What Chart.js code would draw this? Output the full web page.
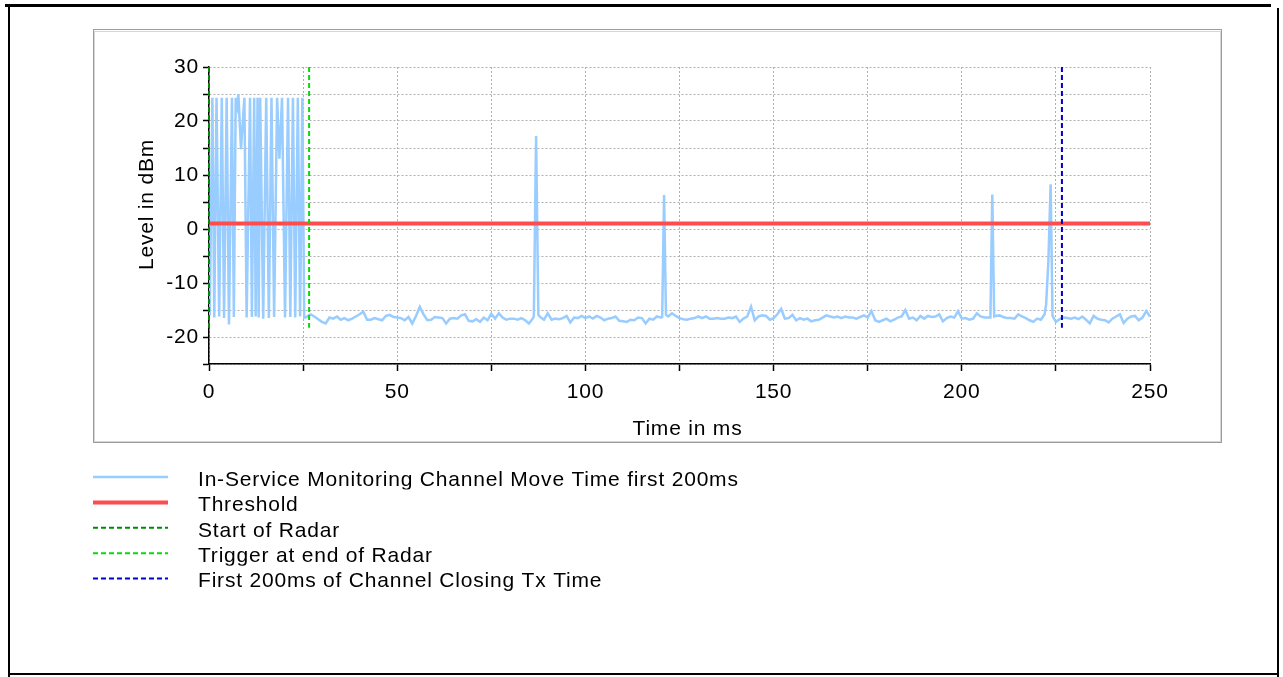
<!DOCTYPE html>
<html>
<head>
<meta charset="utf-8">
<script src="https://cdn.jsdelivr.net/npm/chart.js@4/dist/chart.umd.min.js"></script>
<style>
  html, body { margin: 0; padding: 0; background: #fff; }
  canvas { display: block; }
</style>
</head>
<body>
<canvas id="chart" width="1283" height="677"></canvas>
<script>
// ---- Measured level, radar burst section (first ~26 ms) ----
const burstTimeMs = [0.2, 0.9, 1.4, 2.0, 2.7, 3.4, 4.0, 4.7, 5.3, 6.1,
  6.6, 7.1, 7.5, 7.8, 8.5, 9.4, 10.0, 10.9, 11.4, 12.0,
  12.4, 12.9, 13.2, 13.6, 14.4, 15.2, 15.9, 16.6, 17.3, 18.1,
  18.7, 19.4, 20.2, 21.0, 21.6, 22.3, 22.9, 23.6, 24.2, 24.8,
  25.3, 25.9, 26.5];
const burstLevelDbm = [-16.0, 24.3, -16.4, 24.3, -16.2, 24.3, -16.5, 24.3, -17.7, 24.3,
  -16.3, 24.3, 22.8, 25.0, 14.8, 24.3, -16.4, 24.3, -16.3, 24.3,
  -16.2, 24.3, -16.4, 24.3, -16.6, 24.3, -16.5, 24.3, -16.3, 24.3,
  13.0, 24.3, -16.4, 24.3, -16.3, 24.3, -16.4, 24.3, -16.2, 24.3,
  -16.4, -16.3, -16.0];

// ---- Noise floor, one sample per ms from 27 ms (null = replaced by a spike sample) ----
const floorStartMs = 27;
const floorLevelDbm = [
  -15.8, -16.2, -16.7, -17.2, -17.5, -16.4, -16.6, -16.2, -16.8, -16.5,
  -16.9, -16.6, -16.2, -15.8, -15.3, -16.8, -16.8, -16.5, -16.7, -16.9,
  -16.1, -15.9, -16.3, -16.4, -16.5, -16.9, -16.3, -17.5, -16.1, -14.4,
  -15.8, -16.9, -16.8, -16.3, -16.4, -16.5, -17.5, -16.6, -16.5, -16.6,
  -16.0, -15.8, -17.0, -17.1, -16.7, -17.2, -16.4, -16.9, -15.7, -16.6,
  -15.6, -16.4, -16.8, -16.6, -16.6, -16.8, -16.5, -16.9, -17.5, -16.6,
  null, -16.3, -16.8, -15.6, -16.8, -16.6, -16.7, -16.5, -16.1, -17.3,
  -16.4, -16.5, -16.1, -16.5, -16.2, -16.6, -16.1, -16.4, -16.9, -16.6,
  -16.5, -16.2, -17.0, -17.1, -17.2, -16.8, -16.9, -16.4, -16.5, -17.5,
  -16.6, -16.8, -16.2, -16.4, null, -16.2, -15.6, -16.1, -16.5, -16.7,
  -16.8, -16.6, -16.5, -16.2, -16.5, -16.2, -16.6, -16.6, -16.5, -16.6,
  -16.6, -16.4, -16.5, -16.2, -17.2, -16.6, -16.2, -14.4, -16.9, -16.2,
  -16.0, -16.1, -16.8, -16.5, -15.8, -14.8, -16.6, -16.5, -15.9, -16.9,
  -16.5, -16.8, -16.6, -17.1, -16.9, -16.8, -16.4, -16.0, -16.2, -16.4,
  -16.2, -16.5, -16.2, -16.4, -16.4, -16.6, -16.3, -16.0, -16.4, -15.2,
  -16.9, -17.2, -16.9, -16.6, -17.1, -16.8, -16.4, -16.2, -15.0, -16.6,
  -16.4, -16.9, -16.1, -16.6, -16.1, -16.3, -16.2, -15.8, -17.1, -16.5,
  -16.2, -16.4, -15.2, -16.6, -16.5, -16.8, -16.6, -15.6, -16.2, -16.4,
  -16.4, null, -16.1, -16.0, -16.3, -16.5, -16.5, -16.6, -15.8, -16.2,
  -16.5, -16.9, -17.2, -16.6, -16.8, -15.8, null, null, -17.2, -16.7,
  -16.4, -16.5, -16.6, -16.4, -16.7, -16.2, -16.8, -17.5, -16.1, -16.6,
  -16.8, -16.9, -17.3, -16.6, -16.2, -15.8, -17.4, -16.6, -16.2, -16.1,
  -16.9, -16.4, -15.2, -16.2
];

// ---- Short transmission spikes on top of the floor ----
const spikeTimeMs = [86.3, 86.9, 87.5, 120.4, 120.9, 121.4, 207.6, 208.1, 208.6, 222.4, 223.0, 223.6, 224.1];
const spikeLevelDbm = [-16.2, 17.2, -15.9, -16.3, 6.3, -15.9, -16.4, 6.4, -16.2, -14.0, -6.0, 8.3, -16.1];

// ---- Reference lines ----
const thresholdDbm = 1;
const startOfRadarMs = 0;
const triggerMs = 26.6;
const closingStartMs = 226.6;
const markerTopDbm = 30;
const markerBottomDbm = -18.3;

// ---- Axes ----
const timeRangeMs = [0, 250];
const levelRangeDbm = [-25, 30];
const timeStepMs = 25;
const timeLabelStepMs = 50;
const levelStepDbm = 5;
const levelLabelStepDbm = 10;

const seriesLabels = [
  'In-Service Monitoring Channel Move Time first 200ms',
  'Threshold',
  'Start of Radar',
  'Trigger at end of Radar',
  'First 200ms of Channel Closing Tx Time'
];
const xTitle = 'Time in ms';
const yTitle = 'Level in dBm';

// Assemble the level trace in time order
const levelPoints = [];
burstTimeMs.forEach((t, i) => levelPoints.push({ x: t, y: burstLevelDbm[i] }));
floorLevelDbm.forEach((v, i) => { if (v !== null) levelPoints.push({ x: floorStartMs + i, y: v }); });
spikeTimeMs.forEach((t, i) => levelPoints.push({ x: t, y: spikeLevelDbm[i] }));
levelPoints.sort((a, b) => a.x - b.x);

const verticalMarker = (t) => [{ x: t, y: markerTopDbm }, { x: t, y: markerBottomDbm }];

const FONT = "'Liberation Sans', Arial, Helvetica, sans-serif";
const TEXT_SIZE = 21;
const SPACING = '0.8px';

// Page frame, chart panel and spaced text
const framePlugin = {
  id: 'frame',
  beforeDraw(chart) {
    const ctx = chart.ctx;
    ctx.save();
    ctx.fillStyle = '#000';
    ctx.fillRect(5, 4, 1266, 3);      // top rule
    ctx.fillRect(8, 4, 2, 673);       // left rule
    ctx.fillRect(1277, 8, 2, 669);    // right rule
    ctx.fillRect(8, 673, 1271, 2);    // bottom rule
    // chart panel with a soft inner edge
    ctx.strokeStyle = '#d6d6d6';
    ctx.lineWidth = 1;
    ctx.strokeRect(94.5, 31.5, 1126, 410);
    ctx.strokeStyle = '#9c9c9c';
    ctx.strokeRect(93.5, 29.5, 1128, 413);
    ctx.restore();
    ctx.letterSpacing = SPACING;
  }
};

const annotatePlugin = {
  id: 'annotate',
  afterDraw(chart) {
    const ctx = chart.ctx;
    const area = chart.chartArea;
    ctx.save();
    ctx.letterSpacing = SPACING;
    ctx.fillStyle = '#000';
    ctx.font = TEXT_SIZE + 'px ' + FONT;
    ctx.textAlign = 'center';
    ctx.textBaseline = 'middle';
    // axis titles
    ctx.fillText(xTitle, (area.left + area.right) / 2 + 8, area.bottom + 65);
    ctx.save();
    ctx.translate(147, (area.top + area.bottom) / 2 - 11);
    ctx.rotate(-Math.PI / 2);
    ctx.fillText(yTitle, 0, 0);
    ctx.restore();

    // legend below the panel (rows are cut at the line box, as in the source layout)
    ctx.textAlign = 'left';
    chart.data.datasets.forEach((ds, i) => {
      const cy = 480 + i * 25.4;
      const ly = cy - 3;
      ctx.save();
      ctx.strokeStyle = ds.borderColor;
      ctx.lineWidth = ds.borderWidth;
      ctx.setLineDash(ds.borderDash || []);
      ctx.beginPath();
      ctx.moveTo(93, ly);
      ctx.lineTo(168, ly);
      ctx.stroke();
      ctx.restore();
      ctx.save();
      ctx.beginPath();
      ctx.rect(190, cy - 16, 700, 25.5);
      ctx.clip();
      ctx.fillText(ds.label, 198, cy);
      ctx.restore();
    });
    ctx.restore();
  }
};

new Chart(document.getElementById('chart'), {
  type: 'line',
  data: {
    datasets: [
      { label: seriesLabels[0], data: levelPoints, borderColor: '#99ccff', borderWidth: 2.5, order: 3 },
      { label: seriesLabels[1], data: [{ x: timeRangeMs[0], y: thresholdDbm }, { x: timeRangeMs[1], y: thresholdDbm }],
        borderColor: '#ff4d4d', borderWidth: 4, order: 2 },
      { label: seriesLabels[2], data: verticalMarker(startOfRadarMs), borderColor: '#008a00', borderWidth: 2, borderDash: [5, 3], order: 1, clip: false },
      { label: seriesLabels[3], data: verticalMarker(triggerMs), borderColor: '#00dd00', borderWidth: 2, borderDash: [5, 3], order: 1, clip: false },
      { label: seriesLabels[4], data: verticalMarker(closingStartMs), borderColor: '#0000cc', borderWidth: 2, borderDash: [5, 3], order: 1, clip: false }
    ]
  },
  options: {
    responsive: false,
    animation: false,
    devicePixelRatio: 1,
    elements: { point: { radius: 0 }, line: { tension: 0, borderCapStyle: 'butt' } },
    layout: { padding: { left: 149, top: 67, right: 133, bottom: 273 } },
    plugins: { legend: { display: false }, tooltip: { enabled: false } },
    scales: {
      x: {
        type: 'linear',
        min: timeRangeMs[0], max: timeRangeMs[1],
        afterFit: (s) => { s.height = 40; },
        ticks: {
          stepSize: timeStepMs, autoSkip: false, maxRotation: 0, padding: 9,
          color: '#000', font: { family: FONT, size: TEXT_SIZE },
          callback: (v) => (v % timeLabelStepMs === 0 ? String(v) : '')
        },
        grid: { color: '#b0b0b0', lineWidth: 1, tickColor: '#000', tickLength: 7, tickWidth: 1.5 },
        border: { color: '#000', width: 1.5, dash: [2, 2] }
      },
      y: {
        type: 'linear',
        min: levelRangeDbm[0], max: levelRangeDbm[1],
        afterFit: (s) => { s.width = 60; },
        ticks: {
          stepSize: levelStepDbm, autoSkip: false, padding: 4,
          color: '#000', font: { family: FONT, size: TEXT_SIZE },
          callback: (v) => (v % levelLabelStepDbm === 0 ? String(v) : '')
        },
        grid: { color: '#b0b0b0', lineWidth: 1, tickColor: '#000', tickLength: 6, tickWidth: 1.5 },
        border: { color: '#000', width: 1.5, dash: [2, 2] }
      }
    }
  },
  plugins: [framePlugin, annotatePlugin]
});
</script>
</body>
</html>
